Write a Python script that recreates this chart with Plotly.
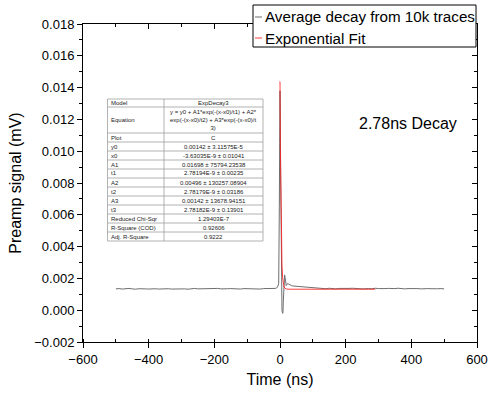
import plotly.graph_objects as go

# ---------------- data ----------------
time_left = list(range(-500, -30, 10))
signal_left = [0.00134, 0.00136, 0.00133, 0.00135, 0.00137, 0.00134, 0.00132, 0.00135, 0.00136, 0.00134,
               0.00133, 0.00136, 0.00135, 0.00133, 0.00134, 0.00137, 0.00135, 0.00133, 0.00134, 0.00136,
               0.00135, 0.00134, 0.00132, 0.00135, 0.00137, 0.00134, 0.00135, 0.00133, 0.00136, 0.00134,
               0.00135, 0.00137, 0.00134, 0.00133, 0.00135, 0.00136, 0.00134, 0.00135, 0.00133, 0.00136,
               0.00135, 0.00134, 0.00136, 0.00135, 0.00133, 0.00136, 0.00135]
time_pulse = [-30, -20, -15, -10, -8, -6, -4, -3, -2, -1, 0, 1, 2, 3, 4, 5, 6, 7, 8, 9, 10, 11, 12, 13,
              14, 15, 17, 19, 21, 23, 26, 30, 35, 40, 50, 60, 70, 80, 90, 100]
signal_pulse = [0.00136, 0.00134, 0.00137, 0.00140, 0.00146, 0.00152, 0.00170, 0.00300, 0.00650, 0.01050,
                0.01380, 0.01200, 0.00850, 0.00500, 0.00250, 0.00100, 0.00000, -0.00012, -0.00020, -0.00015,
                0.00050, 0.00130, 0.00190, 0.00220, 0.00222, 0.00210, 0.00170, 0.00155, 0.00162, 0.00168,
                0.00165, 0.00158, 0.00155, 0.00152, 0.00150, 0.00147, 0.00145, 0.00143, 0.00141, 0.00140]
time_right = list(range(110, 510, 10))
signal_right = [0.00138, 0.00136, 0.00137, 0.00135, 0.00138, 0.00136, 0.00134, 0.00137, 0.00136, 0.00135,
                0.00137, 0.00138, 0.00135, 0.00136, 0.00134, 0.00137, 0.00136, 0.00135, 0.00138, 0.00136,
                0.00134, 0.00136, 0.00137, 0.00135, 0.00136, 0.00138, 0.00135, 0.00134, 0.00136, 0.00137,
                0.00135, 0.00136, 0.00134, 0.00137, 0.00136, 0.00135, 0.00137, 0.00135, 0.00136, 0.00134]

avg_time = time_left + time_pulse + time_right
avg_signal = signal_left + signal_pulse + signal_right

fit_time = [-1, 0, 1, 2, 3, 4, 5, 6, 8, 10, 12, 15, 20, 30, 60, 100, 150, 200, 250, 290]
fit_signal = [0.01437, 0.01437, 0.01043, 0.00768, 0.00576, 0.00441, 0.00349, 0.00283, 0.00205, 0.00168,
              0.00149, 0.00138, 0.00133, 0.00132, 0.00132, 0.00132, 0.00132, 0.00132, 0.00132, 0.00132]

series_names = ["Average decay from 10k traces", "Exponential Fit"]
decay_label = "2.78ns Decay"

table_labels = ["Model", "Equation", "Plot", "y0", "x0", "A1", "t1", "A2", "t2", "A3", "t3",
                "Reduced Chi-Sqr", "R-Square (COD)", "Adj. R-Square"]
table_values = ["ExpDecay3",
                "y = y0 + A1*exp(-(x-x0)/t1) + A2*<br>exp(-(x-x0)/t2) + A3*exp(-(x-x0)/t<br>3)",
                "C", "0.00142 ± 3.11575E-5", "-3.63035E-9 ± 0.01041", "0.01698 ± 75794.23538",
                "2.78194E-9 ± 0.00235", "0.00496 ± 130257.08904", "2.78179E-9 ± 0.03186",
                "0.00142 ± 13678.94151", "2.78182E-9 ± 0.13901", "1.29403E-7", "0.92606", "0.9222"]

# ---------------- geometry helpers ----------------
W, H = 492, 394
ML, MR, MT, MB = 83, 15, 24, 52
PW, PH = W - ML - MR, H - MT - MB


def px(x):
    return (x - ML) / PW


def py(y):
    return 1 - (y - MT) / PH


FONT = "Liberation Sans, Arial, sans-serif"
GRAY = "#6e6e6e"
RED = "rgba(255,30,30,0.85)"

fig = go.Figure()
fig.add_trace(go.Scatter(x=avg_time, y=avg_signal, mode="lines", name=series_names[0],
                         line=dict(color=GRAY, width=1), showlegend=False))
fig.add_trace(go.Scatter(x=fit_time, y=fit_signal, mode="lines", name=series_names[1],
                         line=dict(color=RED, width=1), showlegend=False))
# invisible trace for mirrored axes
fig.add_trace(go.Scatter(x=[None], y=[None], xaxis="x2", yaxis="y2", showlegend=False))

common_ax = dict(showgrid=False, zeroline=False, showline=True, linecolor="black", linewidth=1,
                 tickcolor="black", tickwidth=1, automargin=False)
fig.update_layout(
    width=W, height=H, margin=dict(l=ML, r=MR, t=MT, b=MB, autoexpand=False),
    paper_bgcolor="white", plot_bgcolor="white",
    font=dict(family=FONT, color="black"),
    xaxis=dict(range=[-600, 600], dtick=200, tick0=0, ticks="outside", ticklen=5,
               minor=dict(dtick=100, ticks="inside", ticklen=3, tickcolor="black"),
               tickfont=dict(size=13), title=dict(text="Time (ns)", font=dict(size=16), standoff=8),
               **common_ax),
    yaxis=dict(range=[-0.002, 0.018], dtick=0.002, tick0=0, ticks="outside", ticklen=5,
               tickformat=".3f",
               minor=dict(dtick=0.001, ticks="outside", ticklen=3, tickcolor="black"),
               tickfont=dict(size=13), title=dict(text="Preamp signal (mV)", font=dict(size=16), standoff=8),
               **common_ax),
    xaxis2=dict(range=[-600, 600], dtick=200, tick0=0, ticks="inside", ticklen=5, side="top",
                overlaying="x", showticklabels=False,
                minor=dict(dtick=100, ticks="inside", ticklen=3, tickcolor="black"), **common_ax),
    yaxis2=dict(range=[-0.002, 0.018], dtick=0.002, tick0=0, ticks="inside", ticklen=5, side="right",
                overlaying="y", showticklabels=False,
                minor=dict(dtick=0.001, ticks="inside", ticklen=3, tickcolor="black"), **common_ax),
)

shapes = []
annotations = []

# ---------- manual legend ----------
lx0, lx1, ly0, ly1 = 253, 476, 5, 47
shapes.append(dict(type="rect", xref="paper", yref="paper", x0=px(lx0), x1=px(lx1), y0=py(ly1), y1=py(ly0),
                   fillcolor="white", line=dict(color="black", width=1), layer="above"))
for i, (name, col) in enumerate(zip(series_names, [GRAY, RED])):
    yc = 17 + i * 21
    shapes.append(dict(type="line", xref="paper", yref="paper", x0=px(255), x1=px(262), y0=py(yc), y1=py(yc),
                       line=dict(color=col, width=1), layer="above"))
    annotations.append(dict(xref="paper", yref="paper", x=px(263), y=py(yc), text=name, showarrow=False,
                            xanchor="left", yanchor="middle", font=dict(size=15.2, family=FONT)))

# ---------- decay label ----------
annotations.append(dict(xref="paper", yref="paper", x=px(408), y=py(124), text=decay_label, showarrow=False,
                        xanchor="center", yanchor="middle", font=dict(size=16, family=FONT)))

# ---------- fit table ----------
tx0, tx1, txm = 107.5, 263, 164
row_h = [8] + [26] + [9] * 12
ty = 99
tline = dict(color="#a0a0a0", width=0.8)
TFONT = dict(size=6, family=FONT, color="#222")
shapes.append(dict(type="rect", xref="paper", yref="paper", x0=px(tx0), x1=px(tx1),
                   y0=py(ty + sum(row_h)), y1=py(ty), fillcolor="white", line=tline, layer="above"))
shapes.append(dict(type="line", xref="paper", yref="paper", x0=px(txm), x1=px(txm),
                   y0=py(ty + sum(row_h)), y1=py(ty), line=tline, layer="above"))
yy = ty
for i, (lab, val) in enumerate(zip(table_labels, table_values)):
    h = row_h[i]
    if i > 0:
        shapes.append(dict(type="line", xref="paper", yref="paper", x0=px(tx0), x1=px(tx1),
                           y0=py(yy), y1=py(yy), line=tline, layer="above"))
    yc = yy + h / 2
    annotations.append(dict(xref="paper", yref="paper", x=px(tx0 + 1.5), y=py(yc), text=lab, showarrow=False,
                            xanchor="left", yanchor="middle", font=TFONT))
    annotations.append(dict(xref="paper", yref="paper", x=px((txm + tx1) / 2), y=py(yc), text=val,
                            showarrow=False, xanchor="center", yanchor="middle", font=TFONT))
    yy += h

fig.update_layout(shapes=shapes, annotations=annotations)
fig.write_html("out.html")
